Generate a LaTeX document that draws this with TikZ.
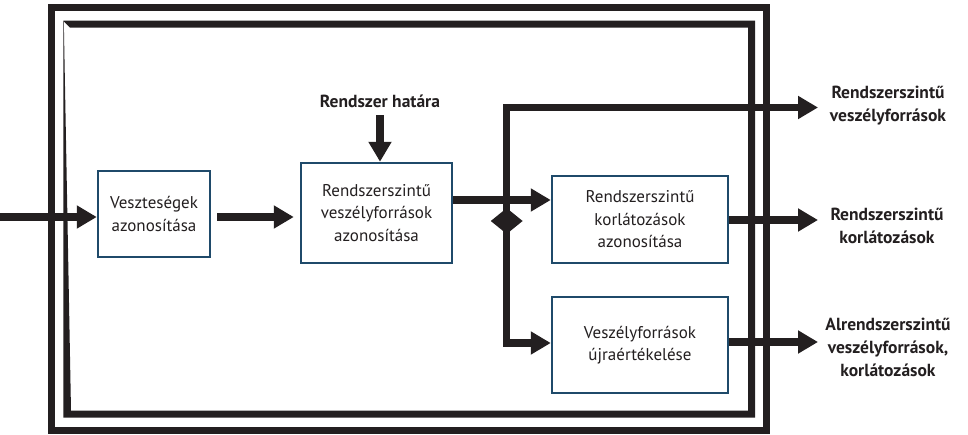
\documentclass[tikz,border=0pt]{standalone}
\usepackage{fontspec}
\setmainfont{PT Sans}
\usetikzlibrary{arrows.meta,shapes.geometric}
\definecolor{ink}{HTML}{231F20}
\definecolor{boxblue}{HTML}{1F4A6A}
\tikzset{
  procbox/.style={draw=boxblue, line width=2.5pt, fill=white, inner sep=0pt, align=center,
    font=\fontsize{17}{22.5}\selectfont, text=ink},
  outlabel/.style={align=center, font=\bfseries\fontsize{17.5}{23}\selectfont, text=ink, inner sep=0pt},
  arr/.style={draw=ink, line width=7.5pt, -{Triangle[length=20pt,width=22pt]}},
  biarr/.style={draw=ink, line width=7.5pt, line join=miter,
    {Triangle[length=20pt,width=22pt]}-{Triangle[length=20pt,width=22pt]}},
}
\begin{document}
\begin{tikzpicture}[x=1pt,y=-1pt]
\useasboundingbox (0,0) rectangle (968,434);
% outer frame
\draw[ink, line width=7.5pt] (51.5,7.5) rectangle (766.3,430.5);
% inner frame with tapered left side
\fill[ink, even odd rule] (63.3,20.7) -- (755,20.7) -- (755,417.7) -- (63.3,417.7) -- cycle
  (63.8,21.5) -- (70,27.7) -- (748,27.7) -- (748,410.7) -- (71,410.7) -- cycle;

% boxes
\node[procbox, minimum width=112pt, minimum height=86pt] (b1) at (154,214) {Veszteségek\\azonosítása};
\node[procbox, minimum width=151pt, minimum height=100pt] (b2) at (376.5,213) {Rendszerszintű\\veszélyforrások\\azonosítása};
\node[procbox, minimum width=176pt, minimum height=87pt] (b3) at (640,219.5) {Rendszerszintű\\korlátozások\\azonosítása};
\node[procbox, minimum width=176pt, minimum height=96pt] (b4) at (640,345) {Veszélyforrások\\újraértékelése};

% labels
\node[outlabel] (lh) at (380,101) {Rendszer határa};
\node[outlabel] (l1) at (888,106) {Rendszerszintű\\veszélyforrások};
\node[outlabel] (l2) at (887,226) {Rendszerszintű\\korlátozások};
\node[outlabel] (l3) at (888,347) {Alrendszerszintű\\veszélyforrások,\\korlátozások};

% coordinates
\coordinate (in) at (0,217);
\coordinate (jt) at (506.7,107.5);
\coordinate (jb) at (506.7,343);
\coordinate (o1) at (818,107.5);
\coordinate (o2) at (818,220);
\coordinate (o3) at (818,342);
\coordinate (hs) at (380,115);

% connectors
\draw[arr] (in) -- (in -| b1.west);
\draw[arr, shorten <=6pt, shorten >=6pt] (b1.east |- 0,217) -- (b2.west |- 0,217);
\draw[arr] (hs) -- (hs |- b2.north);
\draw[arr] (b2.east |- 0,200) -- (b3.west |- 0,200);
\draw[biarr] (b4.west |- jb) -- (jb) -- (jt) -- (o1);
\draw[arr] (b3.east |- o2) -- (o2);
\draw[arr] (b4.east |- o3) -- (o3);

% junction diamond
\node[diamond, fill=ink, inner sep=0pt, minimum width=32pt, minimum height=26pt] (dm) at (506.7,221) {};
\end{tikzpicture}
\end{document}
